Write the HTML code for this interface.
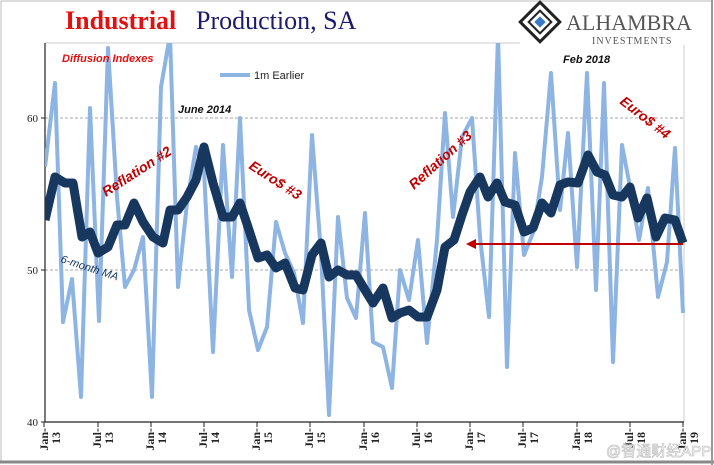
<!DOCTYPE html>
<html><head><meta charset="utf-8"><style>
body{margin:0;background:#fff;}
svg{display:block;}
</style></head><body>
<svg width="714" height="465" viewBox="0 0 714 465" xmlns="http://www.w3.org/2000/svg">
<rect x="0" y="0" width="714" height="465" fill="#fff"/>
<rect x="1" y="1" width="711" height="461" fill="none" stroke="#bbb" stroke-width="1"/>
<line x1="0" y1="462" x2="714" y2="462" stroke="#888" stroke-width="3"/>
<line x1="712" y1="0" x2="712" y2="465" stroke="#999" stroke-width="2"/>
<text x="65" y="29" font-family="Liberation Serif, serif" font-size="26" font-weight="bold" fill="#e31010">Industrial</text>
<text x="196" y="29" font-family="Liberation Serif, serif" font-size="26" fill="#1c1a6e">Production, SA</text>
<g transform="translate(540,22)">
<rect x="-14" y="-14" width="28" height="28" transform="rotate(45)" fill="none" stroke="#222" stroke-width="3"/>
<rect x="-8" y="-8" width="16" height="16" transform="rotate(45)" fill="none" stroke="#222" stroke-width="2"/>
<rect x="-4" y="-4" width="8" height="8" transform="rotate(45)" fill="#3a78c8"/>
</g>
<text x="566" y="30" font-family="Liberation Serif, serif" font-size="22" fill="#555">ALHAMBRA</text>
<text x="592" y="44" font-family="Liberation Serif, serif" font-size="10" fill="#555" letter-spacing="1">INVESTMENTS</text>
<line x1="45" y1="118" x2="684" y2="118" stroke="#aaa" stroke-dasharray="3,2"/>
<line x1="45" y1="270" x2="684" y2="270" stroke="#aaa" stroke-dasharray="3,2"/>
<line x1="45" y1="43" x2="520" y2="43" stroke="#ccc"/>
<line x1="684" y1="45" x2="684" y2="422" stroke="#ccc"/>
<line x1="45" y1="43" x2="45" y2="422" stroke="#222" stroke-width="1.2"/>
<line x1="45" y1="422" x2="684" y2="422" stroke="#222" stroke-width="1.2"/>
<g font-family="Liberation Serif, serif" font-size="11" fill="#222" text-anchor="end">
<text x="38" y="122">60</text><text x="38" y="274">50</text><text x="38" y="426">40</text>
</g>
<g stroke="#222">
<line x1="41" y1="118" x2="45" y2="118"/><line x1="41" y1="270" x2="45" y2="270"/><line x1="41" y1="422" x2="45" y2="422"/>
<line x1="44" y1="422" x2="44" y2="427"/><line x1="98" y1="422" x2="98" y2="427"/><line x1="151" y1="422" x2="151" y2="427"/><line x1="204" y1="422" x2="204" y2="427"/><line x1="257" y1="422" x2="257" y2="427"/><line x1="310" y1="422" x2="310" y2="427"/><line x1="364" y1="422" x2="364" y2="427"/><line x1="417" y1="422" x2="417" y2="427"/><line x1="470" y1="422" x2="470" y2="427"/><line x1="523" y1="422" x2="523" y2="427"/><line x1="577" y1="422" x2="577" y2="427"/><line x1="630" y1="422" x2="630" y2="427"/><line x1="683" y1="422" x2="683" y2="427"/>
</g>
<g font-family="Liberation Serif, serif" font-size="12" font-weight="bold" fill="#222">
<g transform="translate(48,428) rotate(-90)"><text text-anchor="end">Jan-</text><text y="12" text-anchor="end" dx="-4">13</text></g>
<g transform="translate(101,428) rotate(-90)"><text text-anchor="end">Jul-</text><text y="12" text-anchor="end" dx="-4">13</text></g>
<g transform="translate(154,428) rotate(-90)"><text text-anchor="end">Jan-</text><text y="12" text-anchor="end" dx="-4">14</text></g>
<g transform="translate(207,428) rotate(-90)"><text text-anchor="end">Jul-</text><text y="12" text-anchor="end" dx="-4">14</text></g>
<g transform="translate(260,428) rotate(-90)"><text text-anchor="end">Jan-</text><text y="12" text-anchor="end" dx="-4">15</text></g>
<g transform="translate(313,428) rotate(-90)"><text text-anchor="end">Jul-</text><text y="12" text-anchor="end" dx="-4">15</text></g>
<g transform="translate(367,428) rotate(-90)"><text text-anchor="end">Jan-</text><text y="12" text-anchor="end" dx="-4">16</text></g>
<g transform="translate(420,428) rotate(-90)"><text text-anchor="end">Jul-</text><text y="12" text-anchor="end" dx="-4">16</text></g>
<g transform="translate(473,428) rotate(-90)"><text text-anchor="end">Jan-</text><text y="12" text-anchor="end" dx="-4">17</text></g>
<g transform="translate(526,428) rotate(-90)"><text text-anchor="end">Jul-</text><text y="12" text-anchor="end" dx="-4">17</text></g>
<g transform="translate(580,428) rotate(-90)"><text text-anchor="end">Jan-</text><text y="12" text-anchor="end" dx="-4">18</text></g>
<g transform="translate(633,428) rotate(-90)"><text text-anchor="end">Jul-</text><text y="12" text-anchor="end" dx="-4">18</text></g>
<g transform="translate(686,428) rotate(-90)"><text text-anchor="end">Jan-</text><text y="12" text-anchor="end" dx="-4">19</text></g>
</g>
<defs><clipPath id="c"><rect x="45" y="43" width="645" height="380"/></clipPath></defs>
<g clip-path="url(#c)">
<polyline fill="none" stroke="#8db4e2" stroke-width="4" stroke-linejoin="round" points="45,167 55,83 63,322 72,279 81,397 90,108 99,321 108,48 117,197 125,287 134,270 143,237 152,397 161,87 170,35 178,287 187,203 196,147 204,170 213,352 223,145 232,277 240,118 249,310 258,350 267,327 276,222 285,253 294,273 303,323 312,135 321,253 329,415 338,217 347,298 356,318 365,213 373,342 383,347 392,388 400,270 409,300 418,240 427,343 437,240 445,113 453,217 462,137 472,118 480,237 489,317 498,35 507,367 515,153 524,255 533,233 542,177 551,73 560,210 568,133 577,267 587,73 596,290 604,83 613,362 622,145 630,187 639,240 648,188 658,297 667,262 675,148 683,313"/>
<polyline fill="none" stroke="#17375e" stroke-width="9" stroke-linejoin="round" points="45,220 55,177 65,183 73,183 82,237 90,232 98,253 108,247 117,225 125,225 134,203 143,222 153,237 163,243 170,210 178,210 187,197 196,180 204,147 213,183 223,217 232,217 240,203 249,230 258,258 267,255 276,268 285,263 295,288 303,290 312,255 321,243 329,277 338,270 347,275 356,275 365,290 373,303 383,288 392,318 400,313 409,310 418,317 427,317 437,290 445,247 454,240 462,215 470,192 480,177 488,197 497,183 505,202 515,205 524,232 533,228 542,203 551,213 560,185 568,182 578,183 588,155 597,172 605,175 613,195 622,197 630,187 638,218 647,198 656,237 665,218 675,220 683,243"/>
</g>
<line x1="683" y1="244" x2="472" y2="244" stroke="#c00000" stroke-width="2"/>
<polygon points="466,244 476,239 476,249" fill="#c00000"/>
<line x1="220" y1="75" x2="250" y2="75" stroke="#8db4e2" stroke-width="4"/>
<text x="254" y="79" font-family="Liberation Sans, sans-serif" font-size="11" fill="#222">1m Earlier</text>
<g font-family="Liberation Sans, sans-serif" font-style="italic" font-weight="bold">
<text x="62" y="62" font-size="11" fill="#e31010">Diffusion Indexes</text>
<text x="178" y="113" font-size="11" fill="#111">June 2014</text>
<text x="563" y="63" font-size="11" fill="#111">Feb 2018</text>
<text font-size="14" fill="#c00000" transform="translate(106,197) rotate(-33)">Reflation #2</text>
<text font-size="14" fill="#c00000" transform="translate(248,168) rotate(33)">Euro$ #3</text>
<text font-size="14" fill="#c00000" transform="translate(414,190) rotate(-42)">Reflation #3</text>
<text font-size="14" fill="#c00000" transform="translate(619,103) rotate(38)">Euro$ #4</text>
<text font-size="11" fill="#17375e" transform="translate(60,262) rotate(18)" font-weight="normal">6-month MA</text>
</g>
<text x="606" y="456" font-family="Liberation Sans, 'Noto Sans CJK SC', sans-serif" font-size="15" fill="#fff" stroke="#bbb" stroke-width="0.6">@智通财经APP</text>
</svg>
</body></html>
